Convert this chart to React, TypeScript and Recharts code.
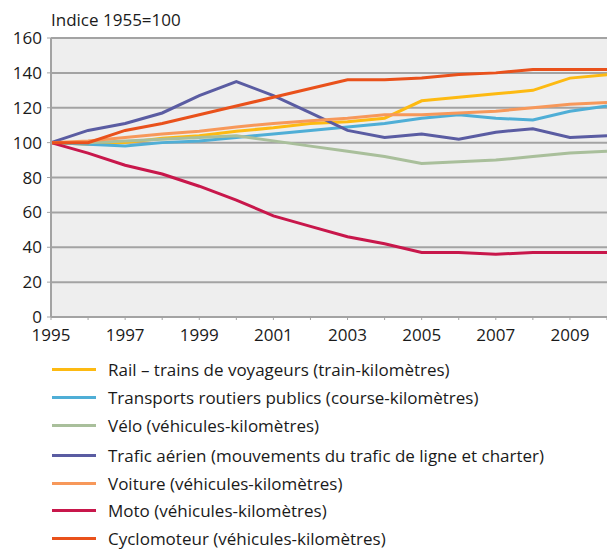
import React from 'react';
import { LineChart, Line, XAxis, YAxis, CartesianGrid, Legend } from 'recharts';

const years = [1995, 1996, 1997, 1998, 1999, 2000, 2001, 2002, 2003, 2004, 2005, 2006, 2007, 2008, 2009, 2010];
const rail = [100, 99, 100, 102.5, 104, 106.5, 108.5, 111, 112, 114, 124, 126, 128, 130, 137, 139];
const routiers = [100, 99, 98, 100, 101, 103, 105, 107, 109, 111, 114, 116, 114, 113, 118, 121];
const velo = [100, 100, 101, 102, 103, 104, 101, 98, 95, 92, 88, 89, 90, 92, 94, 95];
const aerien = [100, 107, 111, 117, 127, 135, 127, 117, 107, 103, 105, 102, 106, 108, 103, 104];
const voiture = [100, 101, 103, 105, 106.5, 109, 111, 112.5, 114, 116, 116, 117, 118, 120, 122, 123];
const moto = [100, 94, 87, 82, 75, 67, 58, 52, 46, 42, 37, 37, 36, 37, 37, 37];
const cyclo = [100, 100, 107, 111, 116, 121, 126, 131, 136, 136, 137, 139, 140, 142, 142, 142];
const yTicks = [0, 20, 40, 60, 80, 100, 120, 140, 160];
const yAxisTitle = 'Indice 1955=100';

const series = [
  { key: 'rail', name: 'Rail – trains de voyageurs (train-kilomètres)', color: '#FDBA12', values: rail },
  { key: 'routiers', name: 'Transports routiers publics (course-kilomètres)', color: '#4FAED6', values: routiers },
  { key: 'velo', name: 'Vélo (véhicules-kilomètres)', color: '#A9BF9B', values: velo },
  { key: 'aerien', name: 'Trafic aérien (mouvements du trafic de ligne et charter)', color: '#5A5CA2', values: aerien },
  { key: 'voiture', name: 'Voiture (véhicules-kilomètres)', color: '#F7985A', values: voiture },
  { key: 'moto', name: 'Moto (véhicules-kilomètres)', color: '#C8174B', values: moto },
  { key: 'cyclo', name: 'Cyclomoteur (véhicules-kilomètres)', color: '#E9511B', values: cyclo },
];

const data = years.map((y, i) => {
  const row: Record<string, number> = { year: y };
  series.forEach((s) => { row[s.key] = s.values[i]; });
  return row;
});

const FONT = '"Open Sans", "Noto Sans", sans-serif';

const LegendContent = () => (
  <div style={{ height: 193, overflow: 'visible', fontFamily: FONT, fontSize: 17, color: '#1a1a1a' }}>
    {series.map((s, i) => (
      <div
        key={s.key}
        style={{ display: 'flex', alignItems: 'center', height: 27.8, marginTop: i === 3 ? 2 : 0 }}
      >
        <div style={{ width: 44, height: 3, background: s.color, marginRight: 12, flex: 'none' }} />
        <span style={{ whiteSpace: 'nowrap' }}>{s.name}</span>
      </div>
    ))}
  </div>
);

export default function App() {
  return (
    <div style={{ position: 'absolute', left: 0, top: 0, width: 607, height: 549, background: '#fff' }}>
      <LineChart width={607} height={549} data={data} margin={{ top: 38, right: 0, left: 0, bottom: 9 }}>
        <CartesianGrid vertical={false} horizontal={true} stroke="#A3A3A3" strokeWidth={2} fill="#EEEEEE" />
        <XAxis
          dataKey="year"
          type="number"
          domain={[1995, 2010]}
          ticks={years}
          interval={0}
          tickFormatter={(v: number) => (v % 2 === 1 ? String(v) : '')}
          tick={{ fontSize: 17, fill: '#1a1a1a', fontFamily: FONT }}
          tickSize={3}
          tickMargin={9}
          height={30}
          axisLine={{ stroke: '#A3A3A3', strokeWidth: 2 }}
          tickLine={{ stroke: '#A3A3A3' }}
        />
        <YAxis
          type="number"
          domain={[0, 160]}
          ticks={yTicks}
          interval={0}
          width={51}
          tick={{ fontSize: 17, fill: '#1a1a1a', fontFamily: FONT }}
          tickSize={4}
          tickMargin={5}
          axisLine={{ stroke: '#A3A3A3', strokeWidth: 2 }}
          tickLine={{ stroke: '#A3A3A3' }}
          label={{
            content: () => (
              <text x={51} y={26} fontSize={17} fill="#1a1a1a" fontFamily={FONT}>
                {yAxisTitle}
              </text>
            ),
          }}
        />
        <Legend
          verticalAlign="bottom"
          align="left"
          layout="horizontal"
          content={LegendContent}
          wrapperStyle={{ left: 52, width: 555, top: 356, bottom: 'auto' }}
        />
        {series.map((s) => (
          <Line
            key={s.key}
            type="linear"
            dataKey={s.key}
            name={s.name}
            stroke={s.color}
            strokeWidth={3}
            dot={false}
            activeDot={false}
            isAnimationActive={false}
          />
        ))}
      </LineChart>
    </div>
  );
}
